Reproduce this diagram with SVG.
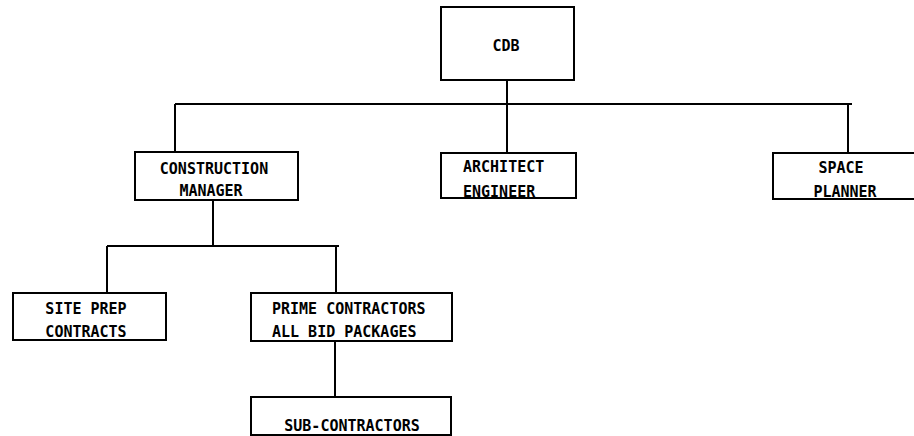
<svg xmlns="http://www.w3.org/2000/svg" width="914" height="436" viewBox="0 0 914 436">
<style>
.box{fill:none;stroke:#000;stroke-width:2}
.ln{fill:none;stroke:#000;stroke-width:2}
.t{font-family:"DejaVu Sans Mono","Liberation Mono",monospace;font-weight:bold;font-size:15px;fill:#000}
.m{text-anchor:middle}
</style>
<rect width="914" height="436" fill="#fff"/>
<g id="connectors">
<path class="ln" d="M507 80V104M175 104H852M175 104V152M507 104V152M848 104V152"/>
<path class="ln" d="M213 200V246M107 246H339M107 246V293M336 246V293"/>
<path class="ln" d="M335 341V397"/>
</g>
<g id="cdb">
<rect class="box" x="441" y="7" width="133" height="73"/>
<text class="t m" x="506" y="50.5">CDB</text>
</g>
<g id="construction-manager">
<rect class="box" x="135" y="152" width="163" height="48"/>
<text class="t m" x="214" y="173.5">CONSTRUCTION</text>
<text class="t m" x="211" y="195.5">MANAGER</text>
</g>
<g id="architect-engineer">
<rect class="box" x="441" y="153" width="135" height="45"/>
<text class="t" x="463" y="171.5">ARCHITECT</text>
<text class="t" x="463" y="196.5">ENGINEER</text>
</g>
<g id="space-planner">
<rect class="box" x="773" y="153" width="145" height="46"/>
<text class="t m" x="841" y="172.5">SPACE</text>
<text class="t m" x="845" y="196.5">PLANNER</text>
</g>
<g id="site-prep">
<rect class="box" x="13" y="293" width="153" height="47"/>
<text class="t m" x="86" y="313.5">SITE PREP</text>
<text class="t m" x="86" y="336.5">CONTRACTS</text>
</g>
<g id="prime-contractors">
<rect class="box" x="251" y="293" width="201" height="48"/>
<text class="t" x="272" y="313.5">PRIME CONTRACTORS</text>
<text class="t" x="272" y="336.5">ALL BID PACKAGES</text>
</g>
<g id="sub-contractors">
<rect class="box" x="251" y="397" width="200" height="38"/>
<text class="t m" x="352" y="431">SUB-CONTRACTORS</text>
</g>
</svg>
